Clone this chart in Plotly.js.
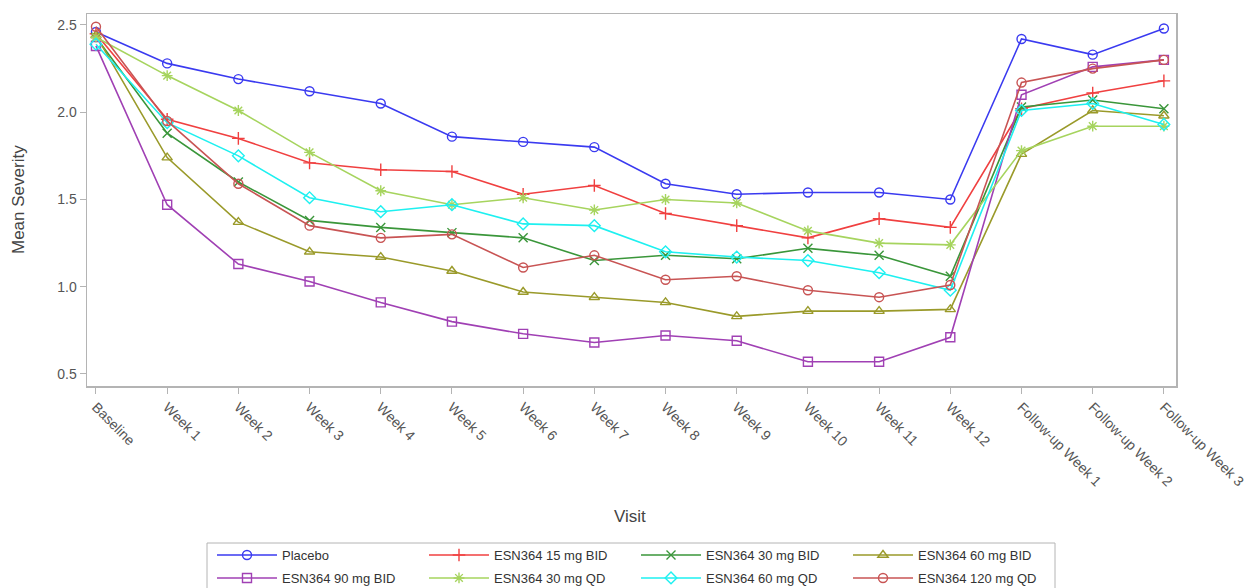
<!DOCTYPE html>
<html>
<head>
<meta charset="utf-8">
<script src="https://cdn.plot.ly/plotly-3.0.1.min.js"></script>
<style>
  html, body { margin: 0; padding: 0; background: #fff; }
  #chart { width: 1247px; height: 588px; }
</style>
</head>
<body>
<div id="chart"></div>
<script>
// Visits along the x axis
const visits = ["Baseline", "Week 1", "Week 2", "Week 3", "Week 4", "Week 5", "Week 6",
  "Week 7", "Week 8", "Week 9", "Week 10", "Week 11", "Week 12",
  "Follow-up Week 1", "Follow-up Week 2", "Follow-up Week 3"];

// Mean severity per treatment group
const placebo   = [2.46, 2.28, 2.19, 2.12, 2.05, 1.86, 1.83, 1.80, 1.59, 1.53, 1.54, 1.54, 1.50, 2.42, 2.33, 2.48];
const bid15     = [2.45, 1.96, 1.85, 1.71, 1.67, 1.66, 1.53, 1.58, 1.42, 1.35, 1.28, 1.39, 1.34, 2.02, 2.11, 2.18];
const bid30     = [2.43, 1.88, 1.60, 1.38, 1.34, 1.31, 1.28, 1.15, 1.18, 1.16, 1.22, 1.18, 1.06, 2.03, 2.07, 2.02];
const bid60     = [2.44, 1.74, 1.37, 1.20, 1.17, 1.09, 0.97, 0.94, 0.91, 0.83, 0.86, 0.86, 0.87, 1.76, 2.01, 1.98];
const bid90     = [2.38, 1.47, 1.13, 1.03, 0.91, 0.80, 0.73, 0.68, 0.72, 0.69, 0.57, 0.57, 0.71, 2.10, 2.26, 2.30];
const qd30      = [2.43, 2.21, 2.01, 1.77, 1.55, 1.47, 1.51, 1.44, 1.50, 1.48, 1.32, 1.25, 1.24, 1.78, 1.92, 1.92];
const qd60      = [2.39, 1.94, 1.75, 1.51, 1.43, 1.47, 1.36, 1.35, 1.20, 1.17, 1.15, 1.08, 0.98, 2.01, 2.05, 1.93];
const qd120     = [2.49, 1.95, 1.59, 1.35, 1.28, 1.30, 1.11, 1.18, 1.04, 1.06, 0.98, 0.94, 1.01, 2.17, 2.25, 2.30];

const groupNames = ["Placebo", "ESN364 15 mg BID", "ESN364 30 mg BID", "ESN364 60 mg BID",
  "ESN364 90 mg BID", "ESN364 30 mg QD", "ESN364 60 mg QD", "ESN364 120 mg QD"];
const groupValues = [placebo, bid15, bid30, bid60, bid90, qd30, qd60, qd120];

const groupColors = ["#3a3af0", "#f04040", "#3a963a", "#9a9a2a", "#a040b4", "#a6d45e", "#1ef0f0", "#c85454"];
const groupSymbols = ["circle-open", "cross-thin-open", "x-thin-open", "triangle-up-open",
  "square-open", "asterisk-open", "diamond-open", "circle-open"];

// First four groups go in the top legend row, the rest in the second row
const traces = groupNames.map((name, i) => ({
  type: "scatter",
  mode: "lines+markers",
  name: name,
  legend: i < 4 ? "legend" : "legend2",
  x: visits,
  y: groupValues[i],
  line: { color: groupColors[i], width: 1.6 },
  marker: {
    symbol: groupSymbols[i],
    size: 9,
    color: groupColors[i],
    line: { color: groupColors[i], width: 1.4 }
  }
}));

const axisGrey = "#b4b4b4";
const textGrey = "#555555";

// Plot area in pixels, used to place the legend frame and axis titles
const W = 1247, H = 588;
const plotL = 87, plotR = 1176, plotT = 14, plotB = 386;
const pw = plotR - plotL, ph = plotB - plotT;
const px = v => (v - plotL) / pw;
const py = v => (plotB - v) / ph;

const legendRow = (top) => ({
  orientation: "h",
  xref: "container",
  yref: "container",
  x: 212 / W,
  xanchor: "left",
  y: 1 - top / H,
  yanchor: "top",
  entrywidth: 137,
  entrywidthmode: "pixels",
  itemwidth: 60,
  borderwidth: 0,
  bgcolor: "rgba(0,0,0,0)",
  font: { size: 13, color: "#333" },
  traceorder: "normal"
});

const layout = {
  width: W,
  height: H,
  paper_bgcolor: "#ffffff",
  plot_bgcolor: "#ffffff",
  margin: { l: plotL, r: W - plotR, t: plotT, b: H - plotB },
  font: { family: "Liberation Sans, Arial, sans-serif", size: 13, color: textGrey },
  showlegend: true,
  xaxis: {
    type: "category",
    range: [-0.126, 15.17],
    automargin: false,
    tickangle: 45,
    ticks: "outside",
    ticklen: 6,
    tickcolor: axisGrey,
    showgrid: false,
    zeroline: false,
    showline: true,
    linecolor: axisGrey,
    linewidth: 1.5,
    mirror: true,
    tickfont: { size: 14, color: textGrey }
  },
  yaxis: {
    range: [0.431, 2.563],
    automargin: false,
    tickvals: [0.5, 1.0, 1.5, 2.0, 2.5],
    tickformat: ".1f",
    ticks: "outside",
    ticklen: 6,
    tickcolor: axisGrey,
    showgrid: false,
    zeroline: false,
    showline: true,
    linecolor: axisGrey,
    linewidth: 1.5,
    mirror: true,
    tickfont: { size: 14, color: textGrey }
  },
  annotations: [
    {
      text: "Mean Severity", xref: "paper", yref: "paper",
      x: px(18), y: py(200), xanchor: "center", yanchor: "middle",
      textangle: -90, showarrow: false,
      font: { size: 17, color: "#444" }
    },
    {
      text: "Visit", xref: "paper", yref: "paper",
      x: px(630), y: py(516), xanchor: "center", yanchor: "middle",
      showarrow: false,
      font: { size: 17, color: "#444" }
    }
  ],
  shapes: [
    {
      type: "rect", xref: "paper", yref: "paper",
      x0: px(207), x1: px(1055), y0: py(543), y1: py(600),
      line: { color: axisGrey, width: 1 },
      fillcolor: "rgba(0,0,0,0)",
      layer: "below"
    }
  ],
  legend: legendRow(540),
  legend2: legendRow(563)
};

Plotly.newPlot("chart", traces, layout, { displayModeBar: false, staticPlot: true });
</script>
</body>
</html>
